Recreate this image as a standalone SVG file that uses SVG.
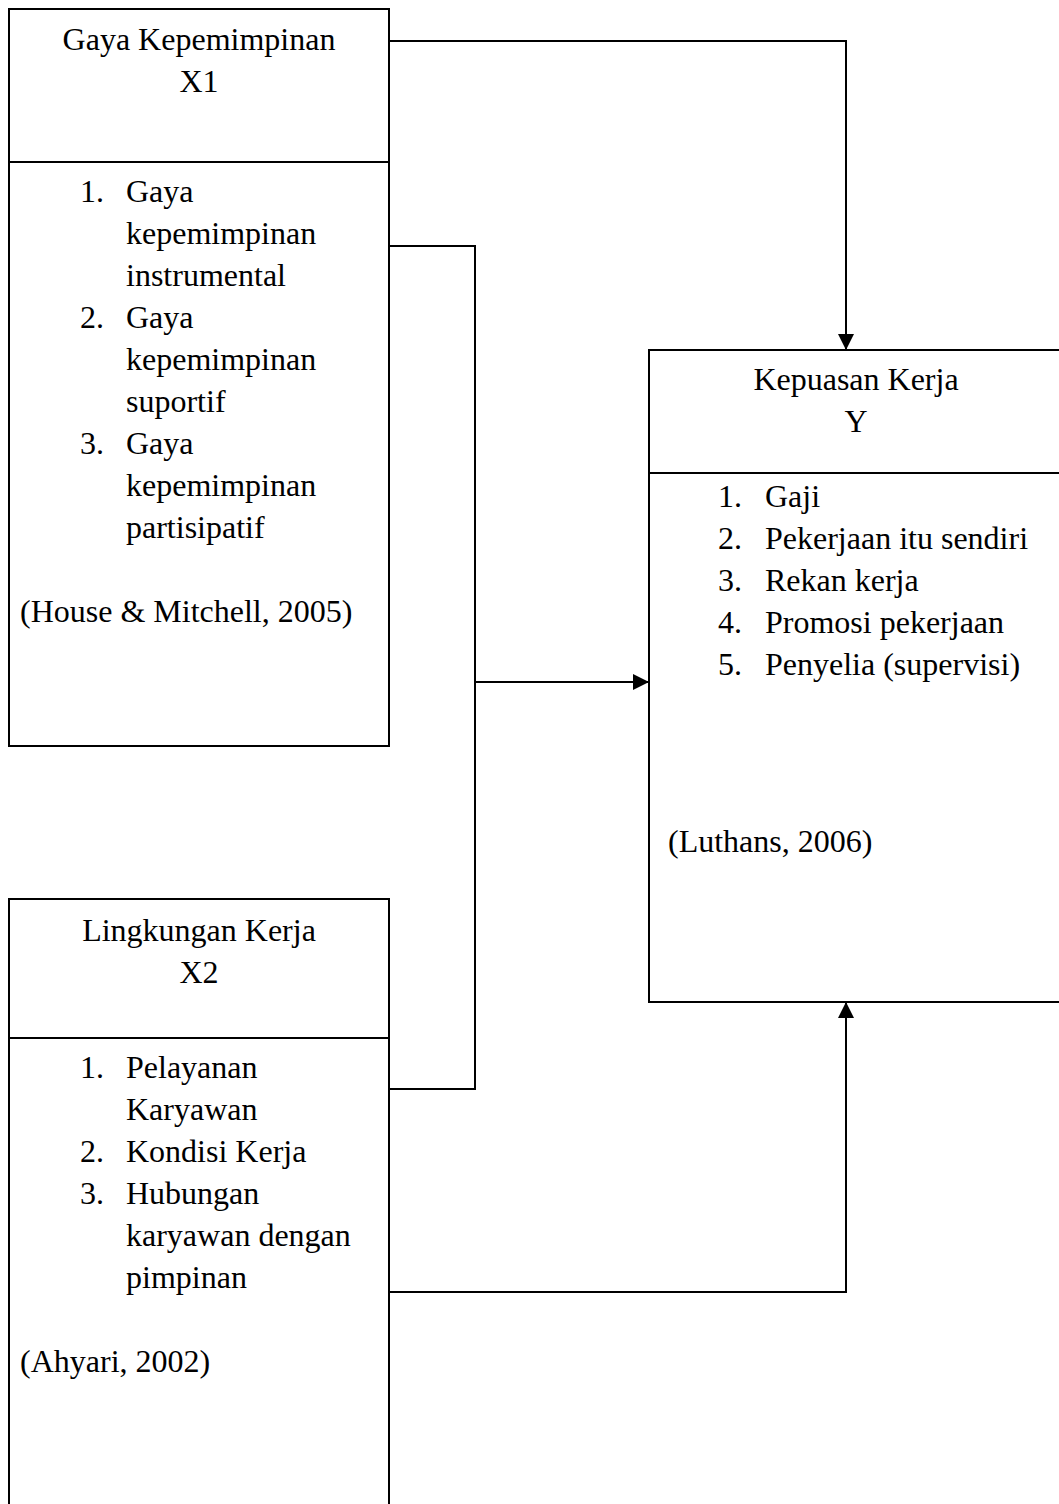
<svg xmlns="http://www.w3.org/2000/svg" width="1059" height="1504" viewBox="0 0 1059 1504">
<style>
.box{fill:none;stroke:#000;stroke-width:2}
.ln{fill:none;stroke:#000;stroke-width:2}
text{font-family:"Liberation Serif","Times New Roman",serif;font-size:32px;fill:#000}
.c{text-anchor:middle}
</style>
<defs>
<marker id="ah" viewBox="0 0 10 10" refX="10" refY="5" markerWidth="16" markerHeight="16" markerUnits="userSpaceOnUse" orient="auto">
<path d="M0,0 L10,5 L0,10 z" fill="#000"/>
</marker>
</defs>
<rect width="1059" height="1504" fill="#fff"/>
<g id="x1">
<rect class="box" x="9" y="9" width="380" height="737"/>
<line class="box" x1="9" y1="162" x2="389" y2="162"/>
<text class="c" x="199" y="50">Gaya Kepemimpinan</text>
<text class="c" x="199" y="92">X1</text>
<text x="80" y="202">1.</text><text x="126" y="202">Gaya</text>
<text x="126" y="244">kepemimpinan</text>
<text x="126" y="286">instrumental</text>
<text x="80" y="328">2.</text><text x="126" y="328">Gaya</text>
<text x="126" y="370">kepemimpinan</text>
<text x="126" y="412">suportif</text>
<text x="80" y="454">3.</text><text x="126" y="454">Gaya</text>
<text x="126" y="496">kepemimpinan</text>
<text x="126" y="538">partisipatif</text>
<text x="20" y="622">(House &amp; Mitchell, 2005)</text>
</g>
<g id="x2">
<path class="box" d="M9,1510 L9,899 L389,899 L389,1510"/>
<line class="box" x1="9" y1="1038" x2="389" y2="1038"/>
<text class="c" x="199" y="941">Lingkungan Kerja</text>
<text class="c" x="199" y="983">X2</text>
<text x="80" y="1078">1.</text><text x="126" y="1078">Pelayanan</text>
<text x="126" y="1120">Karyawan</text>
<text x="80" y="1162">2.</text><text x="126" y="1162">Kondisi Kerja</text>
<text x="80" y="1204">3.</text><text x="126" y="1204">Hubungan</text>
<text x="126" y="1246">karyawan dengan</text>
<text x="126" y="1288">pimpinan</text>
<text x="20" y="1372">(Ahyari, 2002)</text>
</g>
<g id="y">
<path class="box" d="M1065,350 L649,350 L649,1002 L1065,1002"/>
<line class="box" x1="649" y1="473" x2="1065" y2="473"/>
<text class="c" x="856" y="390">Kepuasan Kerja</text>
<text class="c" x="856" y="432">Y</text>
<text x="718" y="507">1.</text><text x="765" y="507">Gaji</text>
<text x="718" y="549">2.</text><text x="765" y="549">Pekerjaan itu sendiri</text>
<text x="718" y="591">3.</text><text x="765" y="591">Rekan kerja</text>
<text x="718" y="633">4.</text><text x="765" y="633">Promosi pekerjaan</text>
<text x="718" y="675">5.</text><text x="765" y="675">Penyelia (supervisi)</text>
<text x="668" y="852">(Luthans, 2006)</text>
</g>
<g id="connectors">
<path class="ln" d="M389,41 L846,41 L846,350" marker-end="url(#ah)"/>
<path class="ln" d="M389,246 L475,246 L475,1089 L389,1089"/>
<path class="ln" d="M475,682 L649,682" marker-end="url(#ah)"/>
<path class="ln" d="M389,1292 L846,1292 L846,1002" marker-end="url(#ah)"/>
</g>
</svg>
